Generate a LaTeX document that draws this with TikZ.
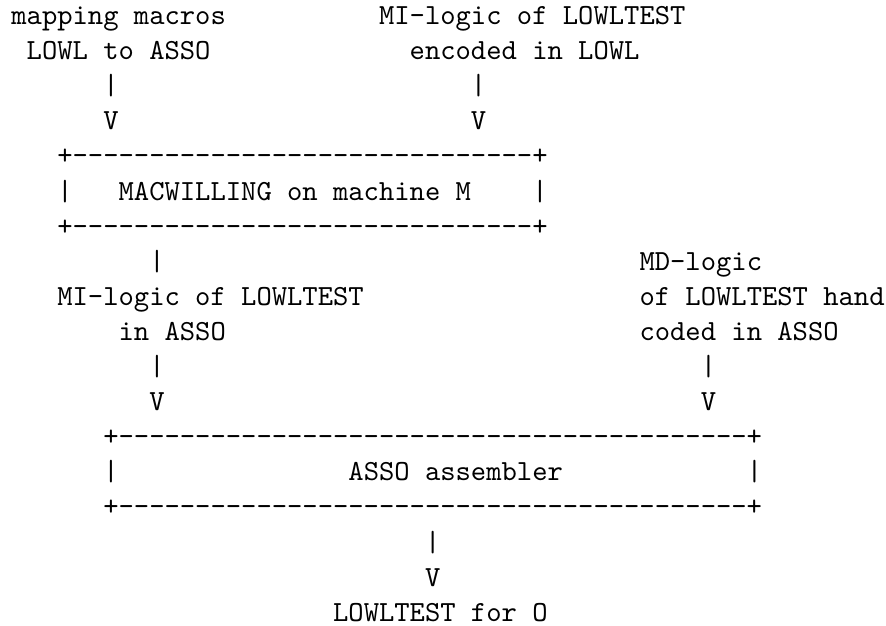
\documentclass[tikz,border=0pt]{standalone}
\tikzset{
  tt/.style={anchor=base west, inner sep=0pt, outer sep=0pt, font=\ttfamily}
}
% #1 name, #2 column, #3 row, #4 text
\newcommand\placetxt[4]{\node[tt] (#1) at ({11.4+15.32*(#2)},{24.5+35.1*(#3)}) {#4};}
\newcommand\dashrow[1]{+\foreach\i in {1,...,#1}{-\kern0pt}+}
\begin{document}
\begin{tikzpicture}[x=0.34269pt, y=-0.34269pt]
\useasboundingbox (0,0) rectangle (886,626);
% row 0-3
\placetxt{mapA}{0}{0}{mapping macros}
\placetxt{milA}{24}{0}{MI-logic of LOWLTEST}
\placetxt{mapB}{1}{1}{LOWL to ASSO}
\placetxt{milB}{26}{1}{encoded in LOWL}
\placetxt{barA}{6}{2}{|}
\placetxt{barB}{30}{2}{|}
\placetxt{vA}{6}{3}{V}
\placetxt{vB}{30}{3}{V}
% box 1
\placetxt{boxAtop}{3}{4}{\dashrow{30}}
\placetxt{boxAl}{3}{5}{|}
\placetxt{boxA}{7}{5}{MACWILLING on machine M}
\placetxt{boxAr}{34}{5}{|}
\placetxt{boxAbot}{3}{6}{\dashrow{30}}
% middle
\placetxt{barC}{9}{7}{|}
\placetxt{mdA}{41}{7}{MD-logic}
\placetxt{miA}{3}{8}{MI-logic of LOWLTEST}
\placetxt{mdB}{41}{8}{of LOWLTEST hand}
\placetxt{miB}{7}{9}{in ASSO}
\placetxt{mdC}{41}{9}{coded in ASSO}
\placetxt{barD}{9}{10}{|}
\placetxt{barE}{45}{10}{|}
\placetxt{vD}{9}{11}{V}
\placetxt{vE}{45}{11}{V}
% box 2
\placetxt{boxBtop}{6}{12}{\dashrow{41}}
\placetxt{boxBl}{6}{13}{|}
\placetxt{boxB}{22}{13}{ASSO assembler}
\placetxt{boxBr}{48}{13}{|}
\placetxt{boxBbot}{6}{14}{\dashrow{41}}
% output
\placetxt{barF}{27}{15}{|}
\placetxt{vF}{27}{16}{V}
\placetxt{outA}{21}{17}{LOWLTEST for O}
\end{tikzpicture}
\end{document}
